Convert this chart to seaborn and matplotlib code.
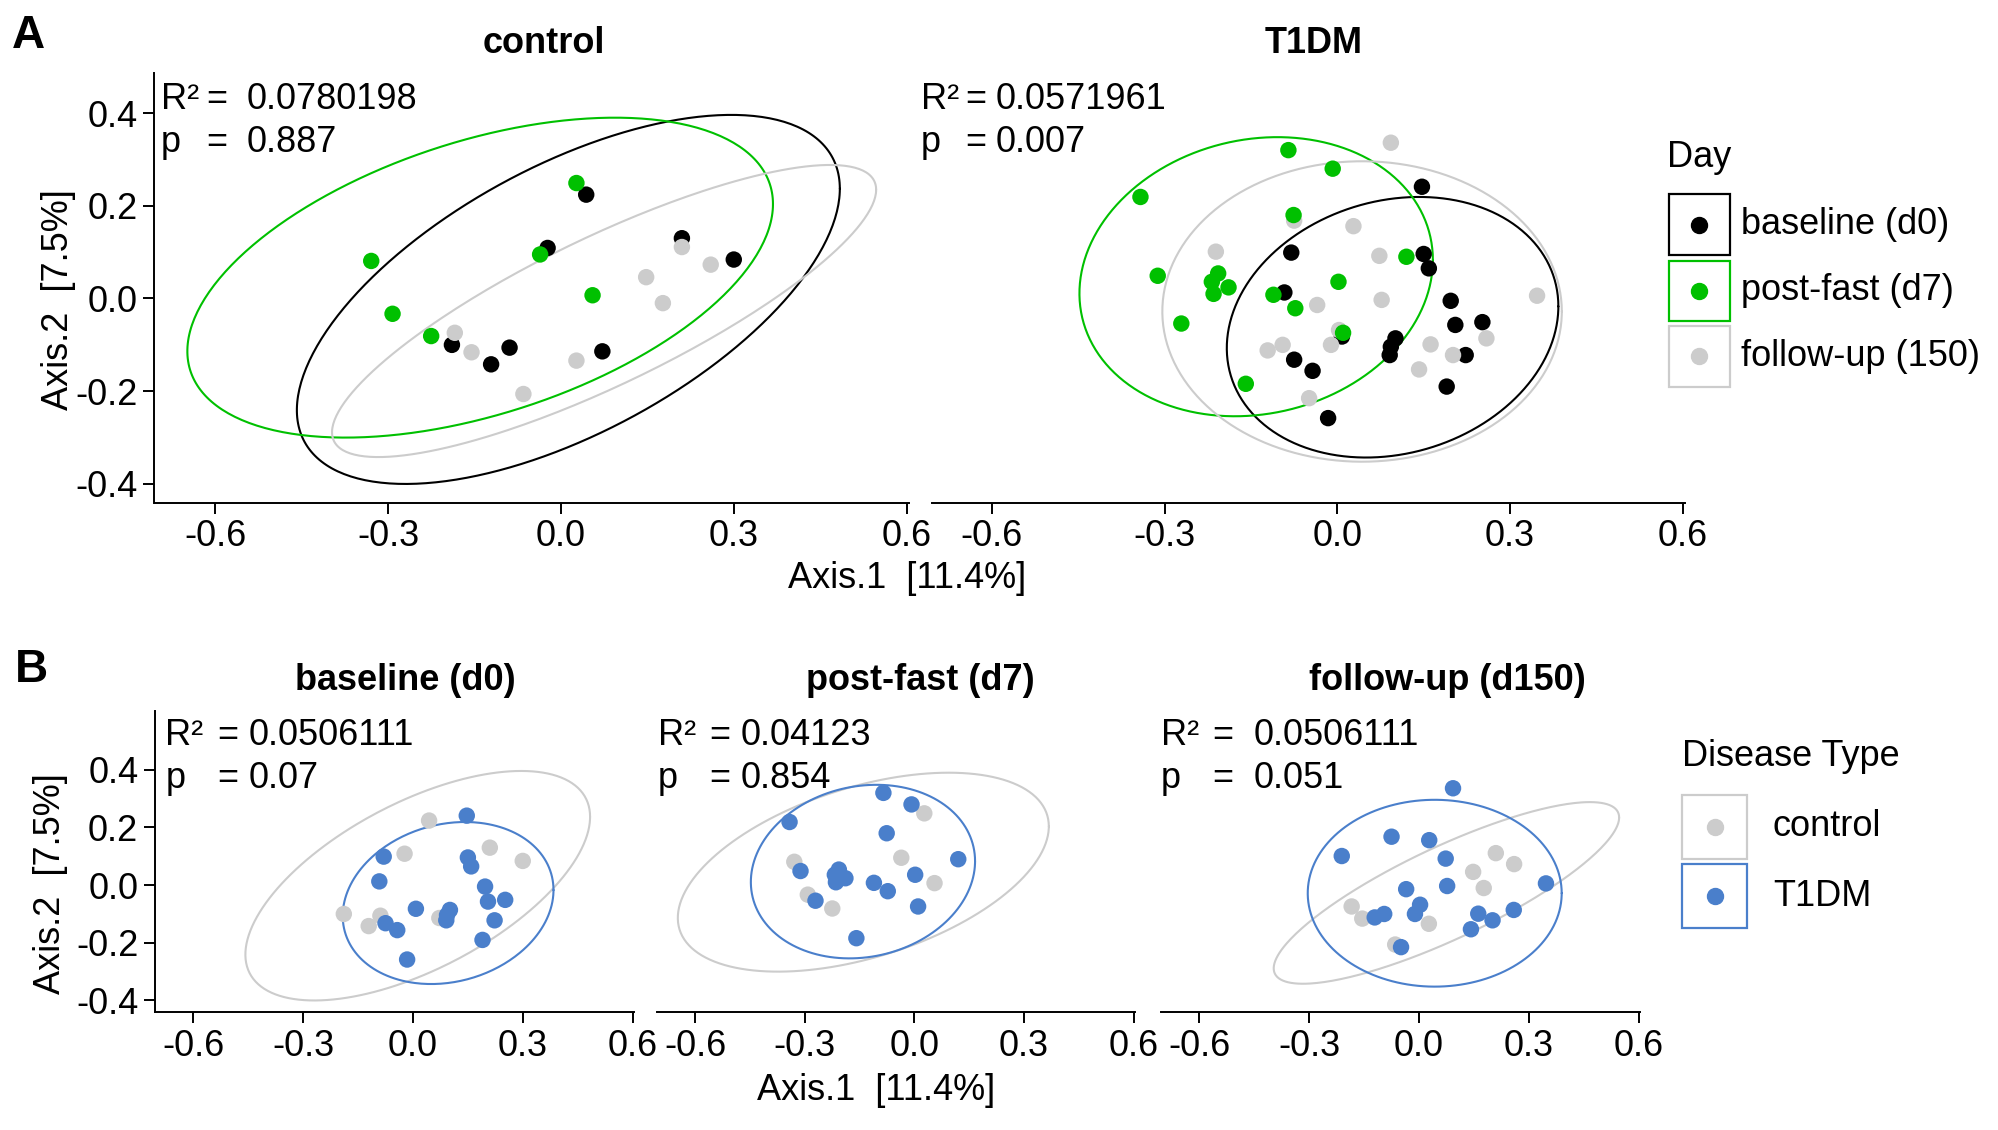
import numpy as np
import pandas as pd
import matplotlib
matplotlib.use("Agg")
import matplotlib.pyplot as plt
import seaborn as sns
from matplotlib.patches import Rectangle
from matplotlib.lines import Line2D

# PCoA scores (Axis.1, Axis.2)
ctrl_d0_x = [0.044, -0.023, 0.210, 0.300, -0.189, -0.089, -0.121, 0.072]
ctrl_d0_y = [0.224, 0.109, 0.130, 0.084, -0.100, -0.106, -0.142, -0.114]
ctrl_d7_x = [0.027, -0.329, -0.036, 0.055, -0.292, -0.225]
ctrl_d7_y = [0.249, 0.081, 0.095, 0.007, -0.033, -0.081]
ctrl_d150_x = [0.210, 0.260, 0.148, 0.177, -0.184, -0.155, 0.027, -0.065]
ctrl_d150_y = [0.111, 0.073, 0.046, -0.010, -0.074, -0.116, -0.134, -0.206]

t1dm_d0_x = [0.147, 0.150, 0.159, 0.197, 0.205, 0.252, 0.101, 0.093, 0.091,
             0.223, 0.190, -0.016, 0.008, -0.080, -0.092, -0.075, -0.043]
t1dm_d0_y = [0.241, 0.096, 0.065, -0.005, -0.057, -0.051, -0.086, -0.104, -0.122,
             -0.122, -0.190, -0.258, -0.082, 0.099, 0.013, -0.132, -0.156]
t1dm_d7_x = [-0.085, -0.008, -0.342, -0.076, -0.312, -0.207, -0.218, -0.189,
             -0.215, 0.002, -0.111, -0.073, -0.271, 0.010, -0.159, 0.120]
t1dm_d7_y = [0.320, 0.280, 0.219, 0.180, 0.049, 0.054, 0.036, 0.024,
             0.010, 0.036, 0.008, -0.021, -0.054, -0.074, -0.184, 0.090]
t1dm_d150_x = [0.093, 0.028, 0.073, 0.077, 0.347, 0.259, 0.162, 0.201, 0.142,
               -0.011, 0.003, -0.211, -0.075, -0.035, -0.095, -0.121, -0.049]
t1dm_d150_y = [0.336, 0.156, 0.092, -0.003, 0.006, -0.086, -0.099, -0.122, -0.153,
               -0.100, -0.068, 0.101, 0.168, -0.014, -0.100, -0.112, -0.215]

days = ["baseline (d0)", "post-fast (d7)", "follow-up (d150)"]
day_labels = ["baseline (d0)", "post-fast (d7)", "follow-up (150)"]
groups = ["control", "T1DM"]

# 95% ellipses per group/day: centre, half-width, half-height, correlation
ell_group = ["control", "control", "control", "T1DM", "T1DM", "T1DM"]
ell_day = days + days
ell_cx = [0.013, -0.140, 0.075, 0.096, -0.141, 0.043]
ell_cy = [-0.002, 0.045, -0.027, -0.062, 0.047, -0.028]
ell_hw = [0.471, 0.508, 0.472, 0.288, 0.307, 0.347]
ell_hh = [0.398, 0.345, 0.315, 0.281, 0.301, 0.324]
ell_rho = [0.60, 0.46, 0.83, 0.16, 0.12, 0.0]

# PERMANOVA results
statsA = {"control": ("0.0780198", "0.887"), "T1DM": ("0.0571961", "0.007")}
statsB = {"baseline (d0)": ("0.0506111", "0.07"),
          "post-fast (d7)": ("0.04123", "0.854"),
          "follow-up (d150)": ("0.0506111", "0.051")}

day_colors = {"baseline (d0)": "#000000", "post-fast (d7)": "#00C000",
              "follow-up (d150)": "#CCCCCC"}
group_colors = {"control": "#CCCCCC", "T1DM": "#4A7FCB"}

# build one long table
pieces = []
for g, d, xs, ys in [("control", days[0], ctrl_d0_x, ctrl_d0_y),
                     ("control", days[1], ctrl_d7_x, ctrl_d7_y),
                     ("control", days[2], ctrl_d150_x, ctrl_d150_y),
                     ("T1DM", days[0], t1dm_d0_x, t1dm_d0_y),
                     ("T1DM", days[1], t1dm_d7_x, t1dm_d7_y),
                     ("T1DM", days[2], t1dm_d150_x, t1dm_d150_y)]:
    pieces.append(pd.DataFrame({"x": xs, "y": ys, "group": g, "day": d}))
df = pd.concat(pieces, ignore_index=True)

ell = pd.DataFrame({"group": ell_group, "day": ell_day, "cx": ell_cx, "cy": ell_cy,
                    "hw": ell_hw, "hh": ell_hh, "rho": ell_rho})


def ellipse_xy(r):
    t = np.linspace(0, 2 * np.pi, 300)
    c = r.rho * r.hw * r.hh
    L = np.linalg.cholesky(np.array([[r.hw ** 2, c], [c, r.hh ** 2]]))
    p = L @ np.vstack([np.cos(t), np.sin(t)])
    return r.cx + p[0], r.cy + p[1]


sns.set_style("ticks")
plt.rcParams["font.family"] = ["Liberation Sans", "DejaVu Sans"]
plt.rcParams["axes.unicode_minus"] = False
plt.rcParams["text.color"] = "black"

W, H = 1999, 1130
fig = plt.figure(figsize=(W / 100, H / 100), dpi=100)


def box(l, t, r, b):
    return [l / W, 1 - b / H, (r - l) / W, (b - t) / H]


def ftext(x, y, s, **kw):
    fig.text(x / W, 1 - y / H, s, color="black", **kw)


XLIM = (-0.705, 0.604)


def style_axes(ax, ylim, first):
    ax.set_xlim(*XLIM)
    ax.set_ylim(*ylim)
    ax.set_xticks([-0.6, -0.3, 0.0, 0.3, 0.6])
    ax.set_xticklabels(["-0.6", "-0.3", "0.0", "0.3", "0.6"])
    ax.set_yticks([-0.4, -0.2, 0.0, 0.2, 0.4])
    ax.set_yticklabels(["-0.4", "-0.2", "0.0", "0.2", "0.4"])
    ax.set_xlabel("")
    ax.set_ylabel("")
    for s in ["top", "right"]:
        ax.spines[s].set_visible(False)
    ax.spines["bottom"].set_linewidth(1.4)
    ax.spines["left"].set_linewidth(1.4)
    ax.spines["bottom"].set_color("black")
    ax.spines["left"].set_color("black")
    ax.tick_params(length=8, width=1.4, labelsize=26, pad=4, colors="black")
    if not first:
        ax.spines["left"].set_visible(False)
        ax.tick_params(axis="y", left=False, labelleft=False)


def annotate(xl, xe, xv, yr, yp, r2, p):
    kw = dict(fontsize=26, va="baseline", ha="left")
    ftext(xl, yr, "R²", **kw)
    ftext(xe, yr, "=", **kw)
    ftext(xv, yr, r2, **kw)
    ftext(xl, yp, "p", **kw)
    ftext(xe, yp, "=", **kw)
    ftext(xv, yp, p, **kw)


# ---------------- panel A: facets by disease type, colour by day
draw_order_A = [days[0], days[2], days[1]]
boxesA = [(154.5, 72.7, 909, 502.5), (931.5, 72.7, 1685, 502.5)]
title_xA = [544, 1313.5]
ann_xA = [(160.6, 206, 247), (921, 965.5, 995.6)]
for i, g in enumerate(groups):
    ax = fig.add_axes(box(*boxesA[i]))
    for _, r in ell[ell.group == g].iterrows():
        ex, ey = ellipse_xy(r)
        ax.plot(ex, ey, color=day_colors[r.day], lw=1.5, zorder=1)
    sub = df[df.group == g].copy()
    sub["o"] = sub.day.map({d: k for k, d in enumerate(draw_order_A)})
    sub = sub.sort_values("o", kind="stable")
    sns.scatterplot(data=sub, x="x", y="y", hue="day", palette=day_colors,
                    s=140, linewidth=0, legend=False, ax=ax, zorder=3)
    style_axes(ax, (-0.44, 0.487), i == 0)
    ftext(title_xA[i], 53, g, fontsize=26, fontweight="bold", ha="center", va="baseline")
    annotate(*ann_xA[i], 109, 152.5, *statsA[g])

ftext(907, 587.5, "Axis.1  [11.4%]", fontsize=26, ha="center", va="baseline")
ftext(59, 300, "Axis.2  [7.5%]", fontsize=26, ha="center", va="center", rotation=90)
ftext(12, 48, "A", fontsize=33, fontweight="bold", ha="left", va="baseline")

# legend A
ftext(1667, 167, "Day", fontsize=26, ha="left", va="baseline")
for k, (d, lab) in enumerate(zip(days, day_labels)):
    t, b = [(194.3, 255), (260.7, 321), (326, 386.7)][k]
    fig.add_artist(Rectangle((1669 / W, 1 - b / H), 61 / W, (b - t) / H,
                             transform=fig.transFigure, fill=False,
                             edgecolor=day_colors[d], lw=1.6))
    fig.add_artist(Line2D([1699.5 / W], [1 - (t + b) / 2 / H], marker="o", ms=11.5,
                          color=day_colors[d], linestyle="none",
                          transform=fig.transFigure))
    ftext(1741, (t + b) / 2, lab, fontsize=26, ha="left", va="center")

# ---------------- panel B: facets by day, colour by disease type
boxesB = [(155, 711, 634, 1012), (657, 711, 1135, 1012), (1161, 711, 1640, 1012)]
title_xB = [405.5, 920, 1447]
ann_xB = [(165.4, 217.6, 249), (658.2, 709, 740.5), (1160.8, 1212, 1254)]
for i, d in enumerate(days):
    ax = fig.add_axes(box(*boxesB[i]))
    for _, r in ell[ell.day == d].iterrows():
        ex, ey = ellipse_xy(r)
        ax.plot(ex, ey, color=group_colors[r.group], lw=1.5, zorder=1)
    sub = df[df.day == d]
    sns.scatterplot(data=sub, x="x", y="y", hue="group", palette=group_colors,
                    s=140, linewidth=0, legend=False, ax=ax, zorder=3)
    style_axes(ax, (-0.44, 0.604), i == 0)
    ftext(title_xB[i], 690, d, fontsize=26, fontweight="bold", ha="center", va="baseline")
    annotate(*ann_xB[i], 745.2, 787.5, *statsB[d])

ftext(876, 1099.6, "Axis.1  [11.4%]", fontsize=26, ha="center", va="baseline")
ftext(50.4, 884, "Axis.2  [7.5%]", fontsize=26, ha="center", va="center", rotation=90)
ftext(15, 682, "B", fontsize=33, fontweight="bold", ha="left", va="baseline")

# legend B
ftext(1682.5, 765.7, "Disease Type", fontsize=26, ha="left", va="baseline")
for k, g in enumerate(groups):
    t, b = [(795, 859), (864, 928)][k]
    fig.add_artist(Rectangle((1682 / W, 1 - b / H), 65 / W, (b - t) / H,
                             transform=fig.transFigure, fill=False,
                             edgecolor=group_colors[g], lw=1.6))
    fig.add_artist(Line2D([1714.5 / W], [1 - (t + b) / 2 / H], marker="o", ms=11.5,
                          color=group_colors[g], linestyle="none",
                          transform=fig.transFigure))
    ftext(1773, (t + b) / 2, g, fontsize=26, ha="left", va="center")

fig.savefig("out.png", dpi=100)
